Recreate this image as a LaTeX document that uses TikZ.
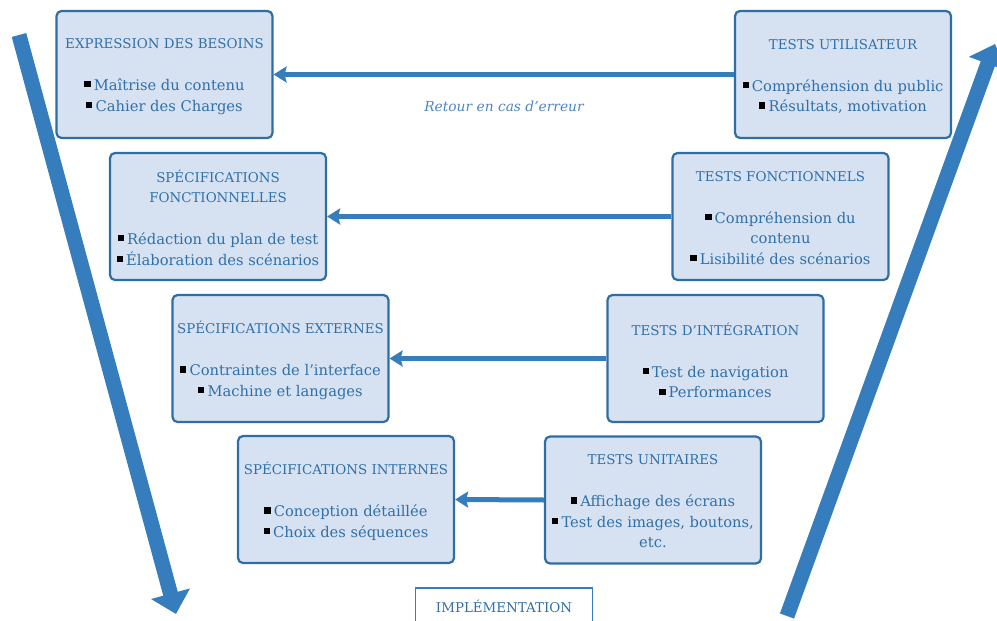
\documentclass[tikz,border=0pt]{standalone}
\usepackage{fontspec}
\setmainfont{DejaVu Serif}
\usetikzlibrary{arrows.meta}
\definecolor{boxfill}{HTML}{D6E1F1}
\definecolor{boxline}{HTML}{2F6DA5}
\definecolor{txt}{HTML}{3070AA}
\definecolor{arr}{HTML}{357DBD}
\definecolor{ital}{HTML}{4D86C4}
\newcommand{\vbul}{\textcolor{black}{\raisebox{3.2pt}{\rule{6.2pt}{6.2pt}}}\hspace{3.2pt}}
\newcommand{\vttl}{\fontsize{13.4}{20.6}\selectfont}
\newcommand{\vitm}{\fontsize{14.7}{20.6}\selectfont}
\tikzset{
  stepbox/.style={draw=boxline, fill=boxfill, line width=2.2pt, rounded corners=5pt,
    minimum width=216pt, minimum height=127pt, inner sep=0pt},
  boxtext/.style={align=center, text=txt, font=\vitm, inner sep=0pt, yshift=-2pt},
  harrow/.style={draw=arr, line width=5pt, -{Stealth[length=13pt,width=16pt,inset=2pt]}},
  bigarrow/.style={draw=arr, line width=15pt, -{Triangle[length=21pt,width=39pt]}},
}
\begin{document}
\begin{tikzpicture}[x=1pt,y=-1pt]
\useasboundingbox (0,0) rectangle (997,621);
\clip (0,0) rectangle (997,621);

\node[stepbox] (b1) at (164.5,74.5) {};
\node[boxtext] (b1t) at (b1.center) {{\vttl EXPRESSION DES BESOINS}\\[21.4pt]\vbul Maîtrise du contenu\\\vbul Cahier des Charges};
\node[stepbox] (t1) at (843,74.5) {};
\node[boxtext] (t1t) at (t1.center) {{\vttl TESTS UTILISATEUR}\\[21.4pt]\vbul Compréhension du public\\\vbul Résultats, motivation};

\node[stepbox] (b2) at (218,216.5) {};
\node[boxtext, yshift=1pt] (b2t) at (b2.center) {{\vttl SPÉCIFICATIONS}\\{\vttl FONCTIONNELLES}\\[21.4pt]\vbul Rédaction du plan de test\\\vbul Élaboration des scénarios};
\node[stepbox] (t2) at (780.5,216.5) {};
\node[boxtext, yshift=0.5pt] (t2t) at (t2.center) {{\vttl TESTS FONCTIONNELS}\\[21.4pt]\vbul Compréhension du\\contenu\\\vbul Lisibilité des scénarios};

\node[stepbox] (b3) at (280.5,358.5) {};
\node[boxtext] (b3t) at (b3.center) {{\vttl SPÉCIFICATIONS EXTERNES}\\[21.4pt]\vbul Contraintes de l'interface\\\vbul Machine et langages};
\node[stepbox] (t3) at (715.5,358.5) {};
\node[boxtext] (t3t) at (t3.center) {{\vttl TESTS D'INTÉGRATION}\\[21.4pt]\vbul Test de navigation\\\vbul Performances};

\node[stepbox] (b4) at (346,499.5) {};
\node[boxtext] (b4t) at (b4.center) {{\vttl SPÉCIFICATIONS INTERNES}\\[21.4pt]\vbul Conception détaillée\\\vbul Choix des séquences};
\node[stepbox] (t4) at (653,500) {};
\node[boxtext, yshift=0.5pt] (t4t) at (t4.center) {{\vttl TESTS UNITAIRES}\\[21.4pt]\vbul Affichage des écrans\\\vbul Test des images, boutons,\\etc.};

\node[draw=arr, line width=1.8pt, fill=white, minimum width=177pt, minimum height=38pt, inner sep=0pt,
  text=txt, font=\vttl] (impl) at (504,607) {};
\node[text=txt, font=\vttl, inner sep=0pt] (implt) at (504,606) {IMPLÉMENTATION};

\node[text=ital, font=\fontsize{13.8}{16}\selectfont\itshape] (ret) at (504,106) {Retour en cas d'erreur};

\draw[harrow] (t1.west) -- (b1.east);
\draw[harrow] (t2.west) -- (b2.east);
\draw[harrow] (t3.west) -- (b3.east);
\draw[harrow] (t4.west) -- (b4.east);

\coordinate (ls) at (19,35);
\coordinate (le) at (176,614);
\coordinate (rs) at (787,616);
\coordinate (re) at (995,44);
\draw[bigarrow] (ls) -- (le);
\draw[bigarrow] (rs) -- (re);
\end{tikzpicture}
\end{document}
